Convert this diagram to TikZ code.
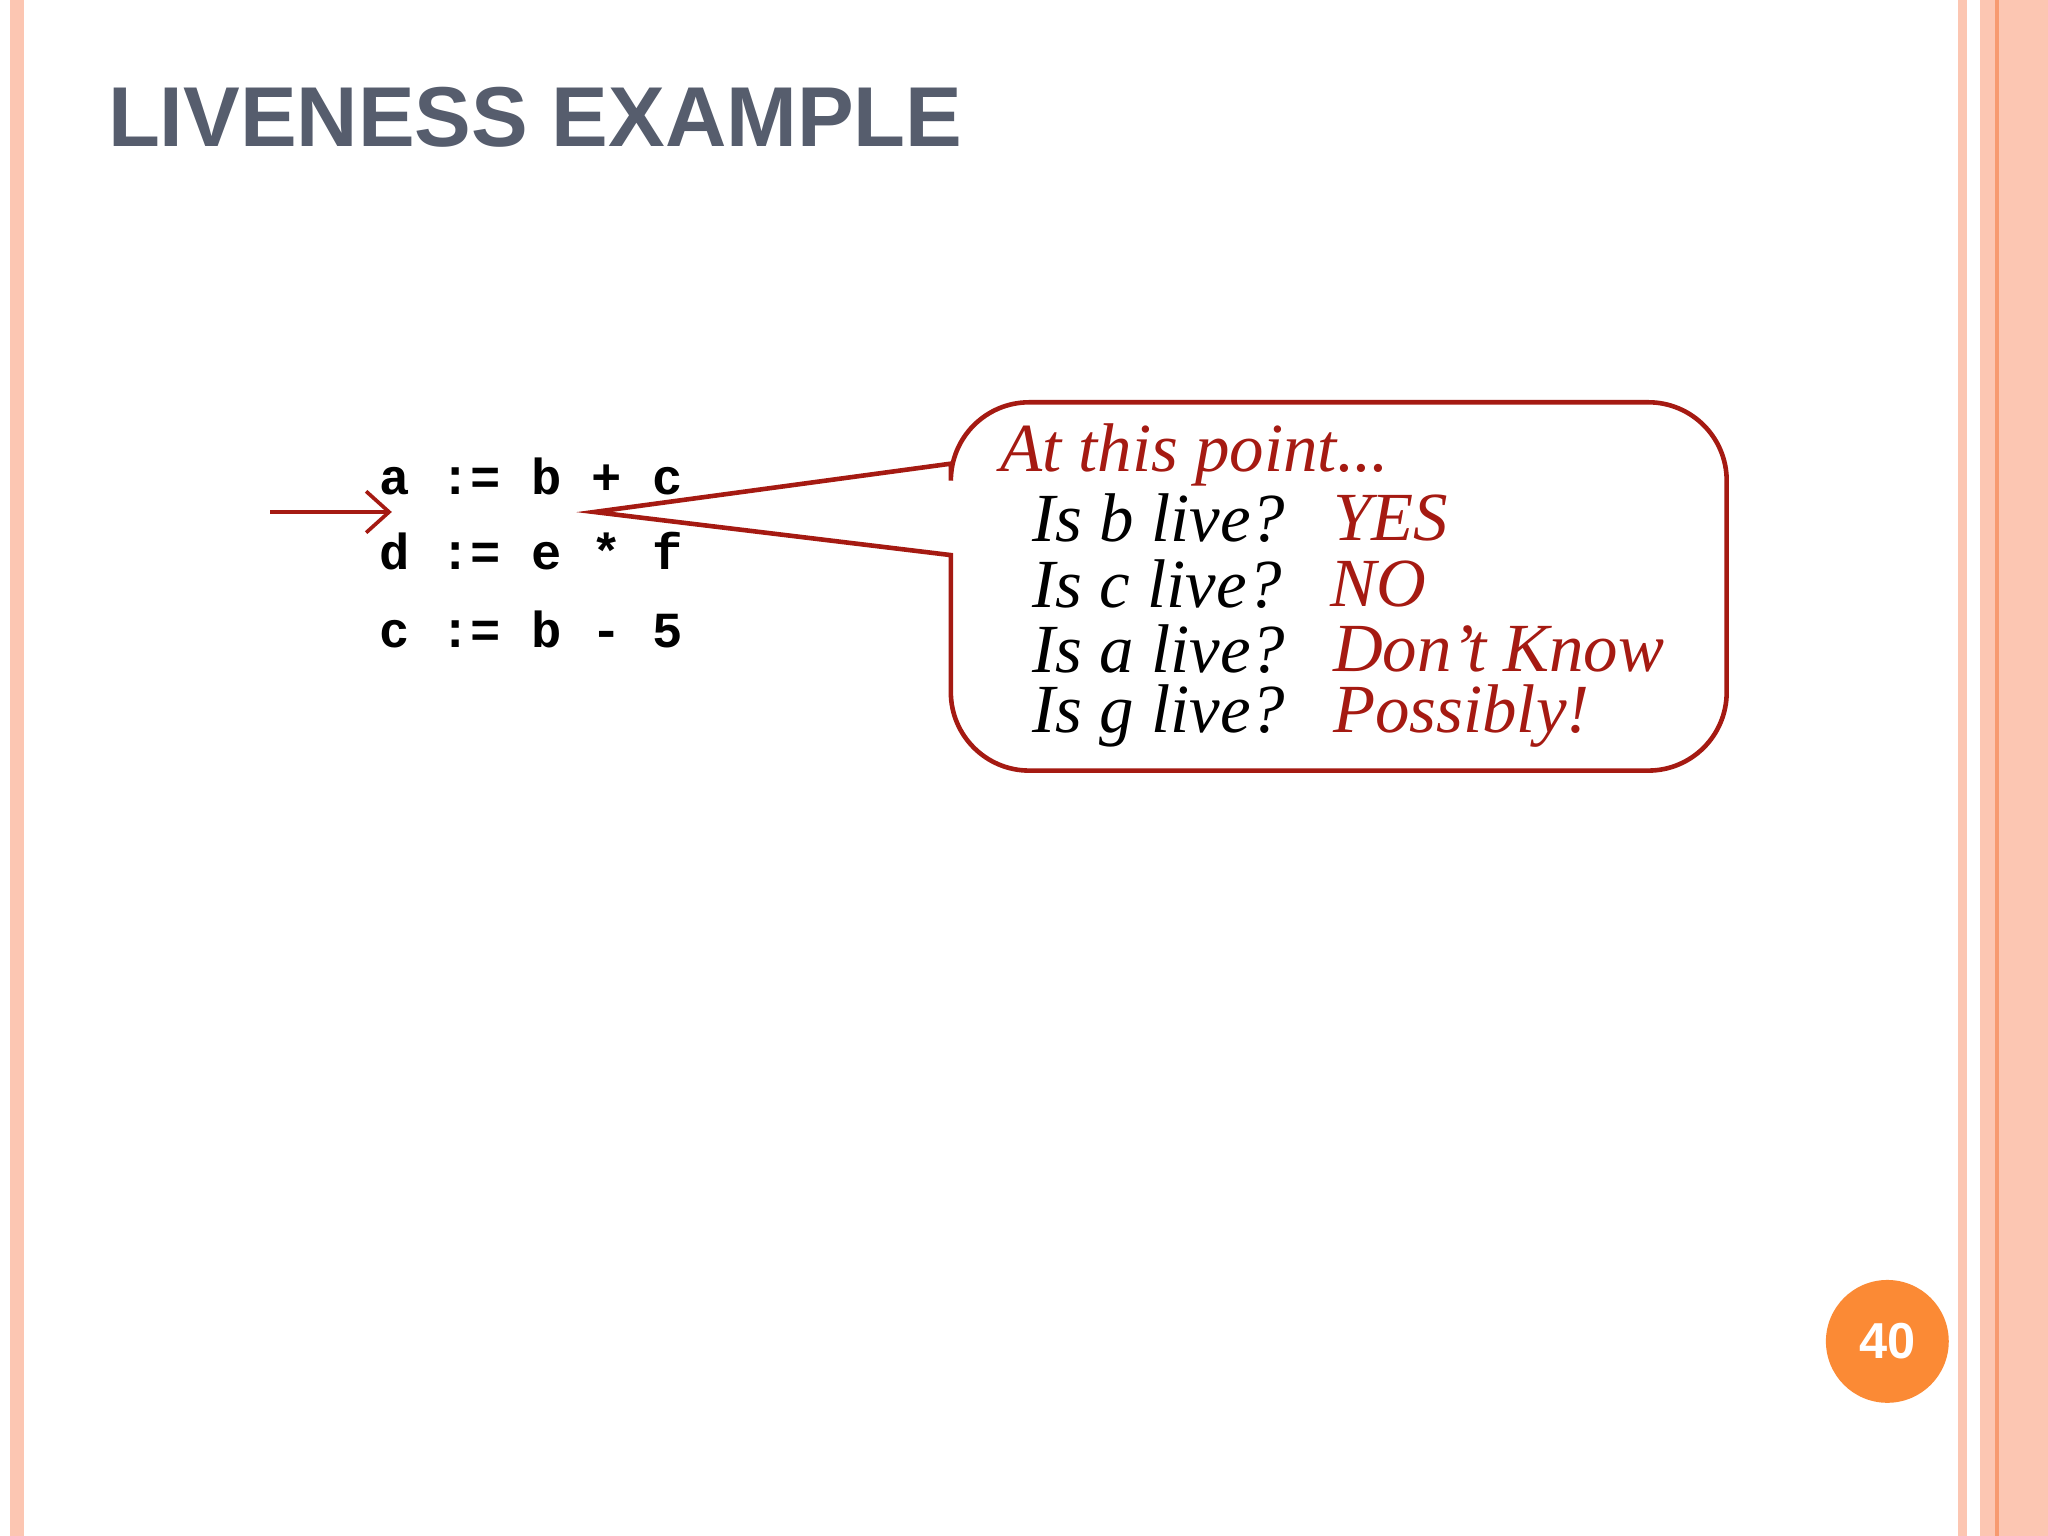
\documentclass[tikz,border=0pt]{standalone}
\usepackage{fontspec}
\usetikzlibrary{arrows.meta}
\setmainfont{Liberation Serif}
\setsansfont{Liberation Sans}
\setmonofont{Liberation Mono}
\definecolor{stripe}{HTML}{FCC6B2}
\definecolor{stripedark}{HTML}{F79A70}
\definecolor{titlegray}{HTML}{565D6D}
\definecolor{bubblered}{HTML}{A51A12}
\definecolor{pageorange}{HTML}{FB8A35}
\begin{document}
\begin{tikzpicture}[x=0.01cm, y=-0.01cm,
    codeline/.style={font=\ttfamily\bfseries\fontsize{11}{13}\selectfont, anchor=west, inner sep=0pt},
    ask/.style={font=\itshape\fontsize{15}{17}\selectfont, anchor=west, inner sep=0pt},
    answer/.style={ask, text=bubblered},
    arr/.style={-{Straight Barb[length=5pt, width=9pt]}, thick, bubblered},
  ]
  \useasboundingbox (0,0) rectangle (1568,1176);
  \fill[white] (0,0) rectangle (1568,1176);

  % borders
  \fill[stripe] (8,0) rectangle (18,1176);
  \fill[stripe] (1499,0) rectangle (1506,1176);
  \fill[stripe] (1516,0) rectangle (1568,1176);
  \draw[stripedark, line width=1pt] (1529,0) -- (1529,1176);

  % title
  \node[font=\sffamily\bfseries\fontsize{18.5}{22}\selectfont, text=titlegray, anchor=west, inner sep=0pt] (title) at (82,90) {LIVENESS EXAMPLE};

  % code
  \node[codeline] (l1) at (290,365) {a := b + c};
  \node[codeline] (l2) at (290,422) {d := e * f};
  \node[codeline] (l3) at (290,482) {c := b - 5};
  \coordinate (pt) at (300,392);
  \draw[arr] (207,392) -- (pt);

  % callout
  \coordinate (tip) at (455,392);
  \draw[bubblered, line width=1pt]
    (728,355) -- (tip) -- (728,425) [rounded corners=0.6cm] -- (728,590) -- (1322,590)
    -- (1322,308) -- (728,308) [sharp corners] -- cycle;

  \node[answer] (head) at (765,348) {At this point...};
  \node[ask] (q1) at (790,397) {Is b live?};
  \node[answer] (a1) at (1020,397) {YES};
  \node[ask] (q2) at (790,447) {Is c live?};
  \node[answer] (a2) at (1018,447) {NO};
  \node[ask] (q3) at (790,497) {Is a live?};
  \node[answer] (a3) at (1020,497) {Don’t Know};
  \node[ask] (q4) at (790,548) {Is g live?};
  \node[answer] (a4) at (1020,548) {Possibly!};

  % page number
  \node[circle, fill=pageorange, minimum size=0.94cm, inner sep=0pt, text=white, font=\sffamily\bfseries\fontsize{11}{13}\selectfont] (page) at (1445,1027) {40};
\end{tikzpicture}
\end{document}
